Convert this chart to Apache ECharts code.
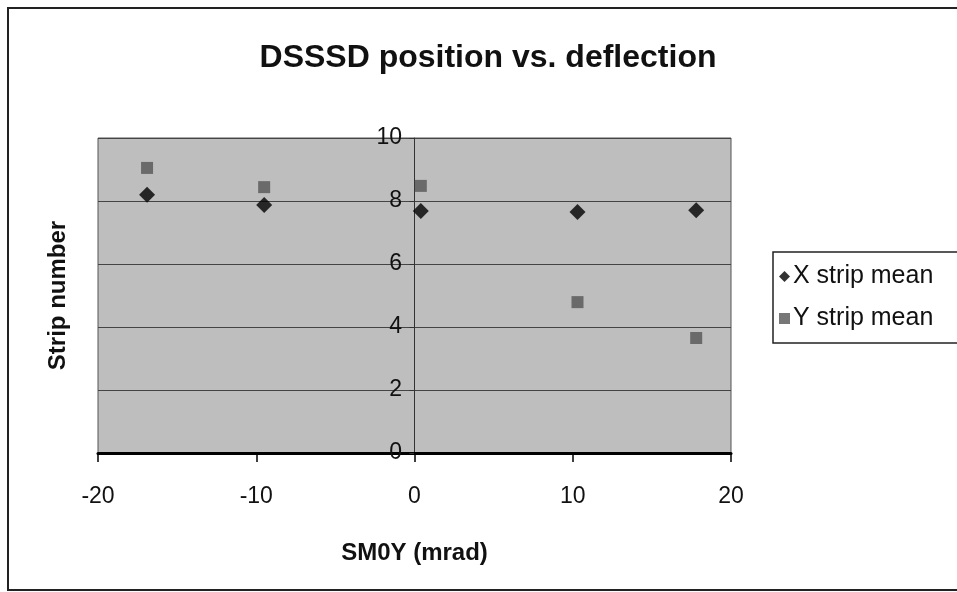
<!DOCTYPE html>
<html><head><meta charset="utf-8">
<script src="https://cdn.jsdelivr.net/npm/echarts@6/dist/echarts.min.js"></script>
<style>html,body{margin:0;padding:0;background:#fff;}#c{width:957px;height:592px;}</style>
</head><body><div id="c"></div>
<script>
const xValues = [-16.9, -9.5, 0.4, 10.3, 17.8];
const xStripMean = [8.2, 7.87, 7.68, 7.65, 7.71];
const yStripMean = [9.05, 8.44, 8.48, 4.79, 3.65];
const seriesNames = ['X strip mean', 'Y strip mean'];
const titleText = 'DSSSD position vs. deflection';
const xAxisName = 'SM0Y (mrad)';
const yAxisName = 'Strip number';

const font = 'Liberation Sans, Arial, sans-serif';
const chart = echarts.init(document.getElementById('c'), null, {renderer: 'canvas'});
chart.setOption({
  backgroundColor: '#fff',
  animation: false,
  title: {
    text: titleText, left: 483, top: 37, textAlign: 'center',
    textStyle: {fontFamily: font, fontWeight: 'bold', fontSize: 32, color: '#111'}
  },
  graphic: [{
    type: 'rect', shape: {x: 8, y: 8, width: 970, height: 582},
    style: {fill: 'none', stroke: '#222', lineWidth: 2}, silent: true
  }],
  grid: {
    left: 98, right: 226, top: 138, bottom: 139, show: true,
    backgroundColor: '#bebebe', borderColor: '#555', borderWidth: 1
  },
  legend: {
    orient: 'vertical', left: 773, top: 252,
    data: [{name: seriesNames[0], icon: 'diamond'}, {name: seriesNames[1], icon: 'rect'}],
    itemWidth: 11, itemHeight: 11, itemGap: 17,
    padding: [12, 60, 12, 6],
    borderColor: '#222', borderWidth: 1.5, backgroundColor: '#fff',
    textStyle: {fontFamily: font, fontSize: 25, color: '#111', padding: [0, 0, 0, -2]}
  },
  xAxis: {
    type: 'value', min: -20, max: 20, interval: 10,
    name: xAxisName, nameLocation: 'middle', nameGap: 88,
    nameTextStyle: {fontFamily: font, fontWeight: 'bold', fontSize: 24, color: '#111'},
    axisLine: {onZero: true, lineStyle: {color: '#000', width: 3}},
    axisTick: {show: true, length: 9, lineStyle: {color: '#000', width: 1.5}},
    axisLabel: {fontFamily: font, fontSize: 23, color: '#111', margin: 32},
    splitLine: {show: false}
  },
  yAxis: {
    type: 'value', min: 0, max: 10, interval: 2,
    name: yAxisName, nameLocation: 'middle', nameRotate: 90,
    nameTextStyle: {fontFamily: font, fontWeight: 'bold', fontSize: 24, color: '#111'},
    nameGap: 28,
    axisLine: {show: true, onZero: true, lineStyle: {color: '#333', width: 1}},
    axisTick: {show: true, length: 5, lineStyle: {color: '#333'}},
    axisLabel: {fontFamily: font, fontSize: 23, color: '#111', margin: -304},
    splitLine: {show: true, lineStyle: {color: '#444', width: 1}}
  },
  series: [
    {
      name: seriesNames[0], type: 'scatter', symbol: 'diamond', symbolSize: 16,
      itemStyle: {color: '#000'},
      data: xValues.map((x, i) => [x, xStripMean[i]])
    },
    {
      name: seriesNames[1], type: 'scatter', symbol: 'rect', symbolSize: 12,
      itemStyle: {color: '#555'},
      data: xValues.map((x, i) => [x, yStripMean[i]])
    }
  ]
});
</script></body></html>
